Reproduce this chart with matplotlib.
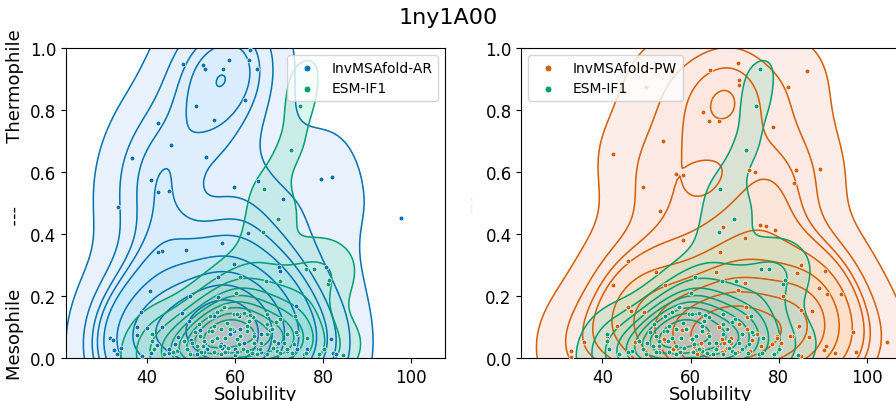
import numpy as np
import matplotlib.pyplot as plt
import seaborn as sns

# InvMSAfold-AR samples (solubility, thermophilicity)
ar_x = [48.2, 52.8, 53.2, 57.3, 58.7, 63.4, 63.1, 65.0, 62.3, 51.2, 55.2, 42.6,
        45.4, 36.5, 53.3, 40.8, 42.6, 45.1, 33.4, 59.8, 65.1, 70.8, 79.6, 82.1,
        97.7, 62.9, 57.0, 48.8, 43.3, 42.4, 59.7, 69.9, 70.3, 80.7, 56.1, 40.6,
        49.7, 56.1, 73.8, 38.6, 48.0, 49.5, 54.4, 37.7, 40.0, 43.4, 37.8, 42.3,
        40.8, 38.8, 44.9, 46.4, 34.0, 31.6, 32.2, 32.5, 33.1, 59.7, 61.2, 65.8,
        81.7, 82.3, 83.0, 69.5, 71.8, 74.1, 53.6, 56.7, 58.2, 51.4, 58.9, 60.8,
        64.2, 76.4, 55.0, 62.0, 66.0, 68.0, 63.0, 52.0, 47.0, 57.5, 60.0,
        55.1, 61.1, 53.2, 57.0, 65.3, 69.8, 50.0, 45.0, 60.0, 64.0]
ar_y = [0.947, 0.946, 0.931, 0.932, 0.960, 0.995, 0.963, 0.934, 0.833, 0.812, 0.767, 0.757,
        0.687, 0.647, 0.648, 0.574, 0.535, 0.540, 0.488, 0.553, 0.573, 0.513, 0.578, 0.585,
        0.453, 0.403, 0.372, 0.350, 0.347, 0.342, 0.304, 0.296, 0.282, 0.296, 0.263, 0.218,
        0.200, 0.199, 0.170, 0.150, 0.145, 0.121, 0.134, 0.102, 0.098, 0.102, 0.076, 0.044,
        0.016, 0.008, 0.016, 0.046, 0.033, 0.067, 0.058, 0.028, 0.015, 0.089, 0.073, 0.078,
        0.062, 0.016, 0.014, 0.046, 0.025, 0.030, 0.030, 0.046, 0.019, 0.014, 0.078, 0.137,
        0.078, 0.030, 0.060, 0.050, 0.020, 0.090, 0.120, 0.090, 0.070, 0.040, 0.030,
        0.137, 0.094, 0.051, 0.035, 0.030, 0.051, 0.060, 0.030, 0.010, 0.050]

# InvMSAfold-PW samples
pw_x = [55.9, 49.9, 64.5, 70.8, 71.1, 71.1, 86.5, 82.1, 62.8, 64.3, 66.4, 78.7,
        53.7, 42.4, 56.7, 58.4, 49.2, 73.4, 74.6, 83.9, 89.4, 83.5, 53.0, 67.3,
        75.9, 77.1, 79.2, 58.4, 72.3, 66.6, 45.8, 85.0, 90.5, 84.3, 52.1, 65.9,
        42.4, 54.1, 72.4, 70.8, 89.2, 91.1, 94.3, 80.9, 85.2, 87.6, 45.8, 46.4,
        49.4, 43.2, 84.5, 86.9, 97.0, 83.1, 104.7, 90.8, 90.3, 92.9, 97.5, 32.9,
        32.8, 35.8, 41.0, 47.3, 72.6, 72.9, 75.2, 84.6, 82.7, 80.5, 78.6, 79.7,
        66.4, 69.1, 67.6, 66.1, 62.3, 60.0, 52.8, 54.3, 70.6, 73.6, 78.9, 85.2,
        57.0, 61.5, 67.6, 57.3, 72.9, 53.9, 60.8, 62.7, 67.2, 69.1, 68.3, 67.2,
        60.4, 79.7, 64.0, 58.0, 71.0, 76.0, 56.0, 74.0, 63.0]
pw_y = [0.924, 0.873, 0.929, 0.952, 0.897, 0.881, 0.927, 0.873, 0.795, 0.766, 0.766, 0.745,
        0.700, 0.657, 0.595, 0.591, 0.553, 0.608, 0.601, 0.606, 0.610, 0.566, 0.474, 0.424,
        0.431, 0.426, 0.414, 0.380, 0.387, 0.342, 0.313, 0.302, 0.280, 0.274, 0.279, 0.279,
        0.237, 0.238, 0.243, 0.219, 0.226, 0.208, 0.206, 0.200, 0.155, 0.153, 0.164, 0.153,
        0.151, 0.105, 0.100, 0.068, 0.084, 0.073, 0.052, 0.041, 0.027, 0.016, 0.019, 0.025,
        0.005, 0.052, 0.073, 0.052, 0.164, 0.094, 0.078, 0.105, 0.073, 0.048, 0.046, 0.073,
        0.102, 0.067, 0.051, 0.041, 0.051, 0.062, 0.035, 0.057, 0.019, 0.025, 0.014, 0.008,
        0.014, 0.014, 0.025, 0.164, 0.132, 0.062, 0.041, 0.030, 0.062, 0.051, 0.035, 0.019,
        0.019, 0.067, 0.080, 0.090, 0.110, 0.040, 0.030, 0.060, 0.120]

# ESM-IF1 samples (same in both panels)
esm_x = [75.8, 74.8, 72.7, 66.6, 69.8, 66.4, 61.1, 67.1, 70.3, 76.1, 77.9, 81.1,
         81.4, 60.1, 57.6, 55.9, 59.7, 62.0, 64.1, 67.3, 70.2, 73.7, 74.1, 73.3,
         71.1, 73.0, 80.2, 84.5, 41.1, 41.1, 41.5, 46.1, 48.3, 50.2, 52.1, 52.9,
         54.0, 55.2, 56.7, 57.8, 59.3, 61.2, 62.7, 64.2, 65.8, 67.3, 68.8, 71.8,
         76.4, 69.5, 55.2, 56.7, 60.5, 62.7, 65.0, 67.3, 52.9, 49.8, 43.8, 49.1,
         51.4, 54.8, 58.2, 63.1, 75.6, 67.3, 68.4, 79.0,
         57.4, 60.4, 63.4, 54.3, 51.7, 54.7, 58.9, 62.6, 69.4, 73.9, 50.9, 55.8,
         60.4, 60.8, 64.2, 48.3, 52.8, 56.6, 58.5, 61.9, 65.7, 68.7, 71.7, 46.8,
         52.2, 57.7, 63.8, 70.2, 76.2, 45.9]
esm_y = [0.934, 0.812, 0.672, 0.545, 0.449, 0.406, 0.263, 0.250, 0.250, 0.289, 0.289, 0.239,
         0.254, 0.212, 0.164, 0.148, 0.143, 0.145, 0.132, 0.143, 0.127, 0.137, 0.080, 0.046,
         0.048, 0.016, 0.030, 0.011, 0.078, 0.055, 0.030, 0.018, 0.055, 0.051, 0.073, 0.057,
         0.089, 0.105, 0.094, 0.067, 0.094, 0.073, 0.089, 0.073, 0.051, 0.078, 0.057, 0.078,
         0.067, 0.025, 0.019, 0.014, 0.019, 0.025, 0.014, 0.014, 0.019, 0.014, 0.014, 0.030,
         0.041, 0.057, 0.115, 0.121, 0.014, 0.110, 0.094, 0.014,
         0.164, 0.143, 0.139, 0.137, 0.110, 0.089, 0.094, 0.105, 0.116, 0.084, 0.084, 0.067,
         0.062, 0.046, 0.051, 0.057, 0.041, 0.041, 0.035, 0.030, 0.030, 0.035, 0.030, 0.025,
         0.019, 0.019, 0.016, 0.016, 0.017, 0.019]

BLUE = '#0173b2'
ORANGE = '#d55e00'
GREEN = '#029e73'

ylab = 'Mesophile' + ' ' * 11 + '---' + ' ' * 11 + 'Thermophile'


def panel(ax, x, y, color, name):
    sns.kdeplot(x=x, y=y, fill=True, color=color, alpha=0.22, ax=ax)
    sns.kdeplot(x=x, y=y, color=color, linewidths=1.1, ax=ax)
    ax.scatter(x, y, s=12, color=color, edgecolor='white', linewidth=0.5,
               label=name, zorder=3)


def main():
    fig = plt.figure(figsize=(8.96, 4.02), dpi=100)
    ax1 = fig.add_axes([0.0737, 0.106, 0.423, 0.772])
    ax2 = fig.add_axes([0.582, 0.106, 0.423, 0.772])

    panel(ax1, ar_x, ar_y, BLUE, 'InvMSAfold-AR')
    panel(ax1, esm_x, esm_y, GREEN, 'ESM-IF1')
    panel(ax2, pw_x, pw_y, ORANGE, 'InvMSAfold-PW')
    panel(ax2, esm_x, esm_y, GREEN, 'ESM-IF1')

    for ax in (ax1, ax2):
        ax.set_xlim(21.6, 107.7)
        ax.set_ylim(0, 1)
        ax.set_xticks([40, 60, 80, 100])
        ax.tick_params(labelsize=12)
        ax.set_xlabel('Solubility', fontsize=13, labelpad=-1)

    ax1.set_ylabel(ylab, fontsize=13)
    ax2.set_ylabel('---', fontsize=13, color='#eeeeee')
    ax1.legend(loc='upper right', fontsize=10, markerscale=1.4)
    ax2.legend(loc='upper left', fontsize=10, markerscale=1.4)

    fig.suptitle('1ny1A00', fontsize=16)
    fig.savefig('out.png', dpi=100)


if __name__ == '__main__':
    main()
